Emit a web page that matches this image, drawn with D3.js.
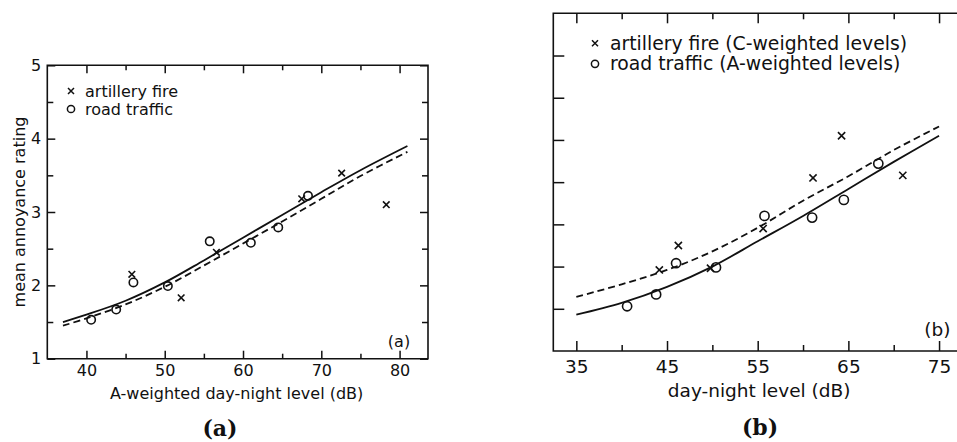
<!DOCTYPE html>
<html>
<head>
<meta charset="utf-8">
<script src="https://cdn.jsdelivr.net/npm/d3@7"></script>
<style>
  body { margin: 0; background: #fff; }
  svg { display: block; }
  text { fill: #111; font-family: "DejaVu Sans", sans-serif; }
</style>
</head>
<body>
<svg id="chart" width="957" height="442"></svg>
<script>
// ---- data ----

// road traffic (same survey points in both panels)
const roadLevel  = [40.6, 43.8, 46.0, 50.4, 55.75, 61.0, 64.5, 68.3];
const roadRating = [1.53, 1.67, 2.04, 1.99, 2.60, 2.58, 2.79, 3.22];

// artillery fire, A-weighted (panel a)
const artyLevelA  = [45.8, 52.1, 56.6, 67.5, 72.6, 78.3];
const artyRatingA = [2.15, 1.83, 2.45, 3.18, 3.53, 3.10];

// artillery fire, C-weighted (panel b)
const artyLevelB  = [44.15, 46.25, 49.8, 55.6, 61.1, 64.25, 71.0];
const artyRatingB = [1.96, 2.25, 1.98, 2.45, 3.05, 3.55, 3.08];

// fitted curves, panel a
const curveLevelA  = [37, 40, 45, 50, 55, 60, 65, 70, 75, 81];
const solidRatingA = [1.50, 1.60, 1.79, 2.04, 2.34, 2.65, 2.96, 3.27, 3.57, 3.90];
const dashRatingA  = [1.45, 1.55, 1.74, 1.98, 2.27, 2.57, 2.87, 3.18, 3.49, 3.82];

// fitted curves, panel b
const curveLevelB  = [35, 40, 45, 50, 55, 60, 65, 70, 75];
const solidRatingB = [1.43, 1.57, 1.76, 2.00, 2.30, 2.60, 2.92, 3.24, 3.55];
const dashRatingB  = [1.64, 1.79, 1.96, 2.18, 2.46, 2.78, 3.07, 3.38, 3.66];

// ticks
const xMajorA = [40, 50, 60, 70, 80];
const xMinorA = [45, 55, 65, 75];
const yMajorA = [1, 2, 3, 4, 5];
const yMinorA = [1.5, 2.5, 3.5, 4.5];
const xMajorB = [35, 45, 55, 65, 75];
const xMinorB = [40, 50, 60, 70];
const yTicksB = [1.5, 2, 2.5, 3, 3.5, 4, 4.5];

const svg = d3.select("#chart");

function zip(xs, ys) {
  return xs.map((x, i) => [x, ys[i]]);
}

function drawPanel(p) {
  const g = svg.append("g");
  const x = d3.scaleLinear().domain(p.xDomain).range([p.left, p.right]);
  const y = d3.scaleLinear().domain([1, 5]).range([p.bottom, p.top]);

  // frame
  g.append("path")
    .attr("d", p.openRight
      ? `M${p.right},${p.top}H${p.left}V${p.bottom}H${p.right}`
      : `M${p.left},${p.top}H${p.right}V${p.bottom}H${p.left}Z`)
    .attr("fill", "none").attr("stroke", "#111").attr("stroke-width", 1.6);

  // tick helper: inward ticks on a side
  function ticks(axisFn, scale, values, size, pos, labels) {
    const ax = axisFn(scale).tickValues(values).tickSizeInner(-size).tickSizeOuter(0)
      .tickPadding(p.pad)
      .tickFormat(labels ? d3.format("d") : "");
    const a = g.append("g").attr("transform", pos).call(ax);
    a.select(".domain").remove();
    a.selectAll("line").attr("stroke", "#111").attr("stroke-width", 1.5);
    a.selectAll("text").style("font-size", p.font + "px")
      .style("font-family", '"DejaVu Sans", sans-serif').attr("fill", "#111");
    return a;
  }

  ticks(d3.axisBottom, x, p.xMajor, p.xMajorLen, `translate(0,${p.bottom})`, true);
  ticks(d3.axisBottom, x, p.xMinor, p.xMinorLen, `translate(0,${p.bottom})`, false);
  ticks(d3.axisTop, x, p.xMajor, p.xMajorLen, `translate(0,${p.top})`, false);
  ticks(d3.axisTop, x, p.xMinor, p.xMinorLen, `translate(0,${p.top})`, false);
  if (p.yMajor) {
    ticks(d3.axisLeft, y, p.yMajor, p.yMajorLen, `translate(${p.left},0)`, p.yLabels);
    ticks(d3.axisRight, y, p.yMajor, p.yMajorLen, `translate(${p.right},0)`, false);
  }
  if (p.yMinor) {
    ticks(d3.axisLeft, y, p.yMinor, p.yMinorLen, `translate(${p.left},0)`, false);
    if (!p.openRight) ticks(d3.axisRight, y, p.yMinor, p.yMinorLen, `translate(${p.right},0)`, false);
  }

  // curves
  const line = d3.line().x(d => x(d[0])).y(d => y(d[1])).curve(d3.curveCatmullRom);
  g.append("path").attr("d", line(zip(p.curveLevel, p.solid)))
    .attr("fill", "none").attr("stroke", "#111").attr("stroke-width", 1.8);
  g.append("path").attr("d", line(zip(p.curveLevel, p.dash)))
    .attr("fill", "none").attr("stroke", "#111").attr("stroke-width", 1.8)
    .attr("stroke-dasharray", "7,4");

  // markers
  const cs = p.mark;
  g.selectAll(".cross").data(zip(p.artyLevel, p.artyRating)).enter()
    .append("path").attr("class", "cross")
    .attr("d", d => {
      const cx = x(d[0]), cy = y(d[1]);
      return `M${cx - cs},${cy - cs}L${cx + cs},${cy + cs}M${cx - cs},${cy + cs}L${cx + cs},${cy - cs}`;
    })
    .attr("stroke", "#111").attr("stroke-width", 1.6);
  g.selectAll(".ring").data(zip(roadLevel, roadRating)).enter()
    .append("circle").attr("class", "ring")
    .attr("cx", d => x(d[0])).attr("cy", d => y(d[1])).attr("r", p.ring)
    .attr("fill", "none").attr("stroke", "#111").attr("stroke-width", 1.6);

  // legend
  const lg = p.legend;
  g.append("path")
    .attr("d", `M${lg.x - 3},${lg.y1 - 3}L${lg.x + 3},${lg.y1 + 3}M${lg.x - 3},${lg.y1 + 3}L${lg.x + 3},${lg.y1 - 3}`)
    .attr("stroke", "#111").attr("stroke-width", 1.5);
  g.append("circle").attr("cx", lg.x).attr("cy", lg.y2).attr("r", 3.6)
    .attr("fill", "none").attr("stroke", "#111").attr("stroke-width", 1.5);
  g.append("text").attr("x", lg.tx).attr("y", lg.y1 + lg.dy).style("font-size", p.legendFont + "px")
    .text(lg.label1);
  g.append("text").attr("x", lg.tx).attr("y", lg.y2 + lg.dy).style("font-size", p.legendFont + "px")
    .text(lg.label2);

  // panel tag inside plot
  g.append("text").attr("x", p.tag.x).attr("y", p.tag.y).attr("text-anchor", "middle")
    .style("font-size", p.font + "px").text(p.tag.text);

  // axis titles
  g.append("text").attr("x", (p.left + Math.min(p.right, 957)) / 2 + p.xTitleShift).attr("y", p.xTitleY)
    .attr("text-anchor", "middle").style("font-size", p.font + "px").text(p.xTitle);
  if (p.yTitle) {
    g.append("text")
      .attr("transform", `translate(${p.yTitleX},${(p.top + p.bottom) / 2}) rotate(-90)`)
      .attr("text-anchor", "middle").style("font-size", p.font + "px").text(p.yTitle);
  }

  // caption
  g.append("text").attr("x", p.caption.x).attr("y", p.caption.y).attr("text-anchor", "middle")
    .style("font-family", '"DejaVu Serif", serif').style("font-weight", "bold")
    .style("font-size", "22px").text(p.caption.text);
}

drawPanel({
  left: 47.3, right: 428, top: 65.3, bottom: 358.7,
  xDomain: [35, 83.63],
  xMajor: xMajorA, xMinor: xMinorA, yMajor: yMajorA, yMinor: yMinorA,
  xMajorLen: 8, xMinorLen: 5, yMajorLen: 8, yMinorLen: 6,
  yLabels: true, pad: 6, font: 16, legendFont: 16,
  curveLevel: curveLevelA, solid: solidRatingA, dash: dashRatingA,
  artyLevel: artyLevelA, artyRating: artyRatingA,
  mark: 3.3, ring: 4.2,
  legend: { x: 71, y1: 91, y2: 109, tx: 85, dy: 5.5,
    label1: "artillery fire", label2: "road traffic" },
  tag: { x: 399, y: 346.5, text: "(a)" },
  xTitle: "A-weighted day-night level (dB)", xTitleY: 399, xTitleShift: -1,
  yTitle: "mean annoyance rating", yTitleX: 25,
  caption: { x: 220, y: 436, text: "(a)" }
});

drawPanel({
  left: 553.3, right: 962, top: 13.3, bottom: 351, openRight: true,
  xDomain: [32.46, 77.53],
  xMajor: xMajorB, xMinor: xMinorB, yMajor: null, yMinor: yTicksB,
  xMajorLen: 10, xMinorLen: 6, yMinorLen: 11,
  yLabels: false, pad: 8.5, font: 18.5, legendFont: 18.8,
  curveLevel: curveLevelB, solid: solidRatingB, dash: dashRatingB,
  artyLevel: artyLevelB, artyRating: artyRatingB,
  mark: 3.6, ring: 4.6,
  legend: { x: 595, y1: 43.3, y2: 63.8, tx: 610, dy: 6.5,
    label1: "artillery fire (C-weighted levels)", label2: "road traffic (A-weighted levels)" },
  tag: { x: 937.3, y: 336, text: "(b)" },
  xTitle: "day-night level (dB)", xTitleY: 397, xTitleShift: 4,
  yTitle: null,
  caption: { x: 760, y: 435, text: "(b)" }
});
</script>
</body>
</html>
